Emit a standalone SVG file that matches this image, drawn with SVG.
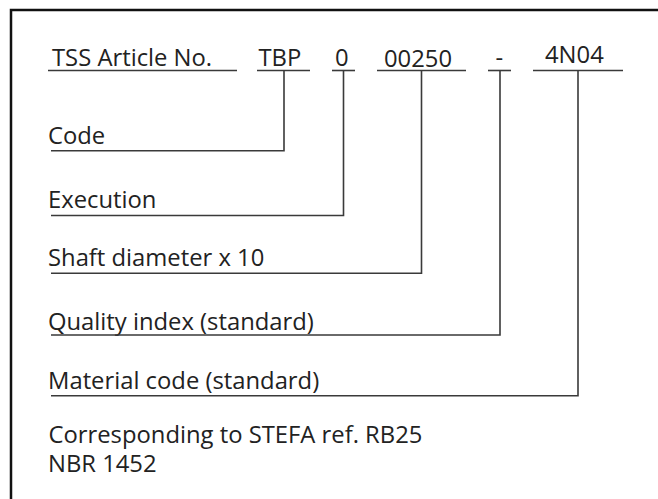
<svg xmlns="http://www.w3.org/2000/svg" width="658" height="499" viewBox="0 0 658 499">
<style>
  .t { font-family: "Open Sans", "Noto Sans", "DejaVu Sans", sans-serif; font-size: 23.8px; fill: #222; }
  .ln { fill: none; stroke: #3a3a3a; stroke-width: 1.6; }
  .frame { fill: none; stroke: #111; stroke-width: 2.5; }
</style>
<rect width="658" height="499" fill="#fff"/>
<path class="frame" d="M11 499 V10 H658"/>
<g id="header">
  <text class="t" x="52" y="66">TSS Article No.</text>
  <line class="ln" x1="48" y1="70.5" x2="237" y2="70.5"/>
  <text class="t" x="258.5" y="66">TBP</text>
  <line class="ln" x1="257" y1="70.5" x2="310" y2="70.5"/>
  <text class="t" x="335" y="66">0</text>
  <line class="ln" x1="332" y1="70.5" x2="355" y2="70.5"/>
  <text class="t" x="384" y="66.5">00250</text>
  <line class="ln" x1="377" y1="70.5" x2="466" y2="70.5"/>
  <text class="t" x="495.5" y="66">-</text>
  <line class="ln" x1="488" y1="70.5" x2="511" y2="70.5"/>
  <text class="t" x="545" y="62.5">4N04</text>
  <line class="ln" x1="533" y1="70.5" x2="623" y2="70.5"/>
</g>
<g id="code"><text class="t" x="48" y="144.3">Code</text></g>
<g id="execution"><text class="t" x="48" y="208.3">Execution</text></g>
<g id="shaft"><text class="t" x="48" y="265.5">Shaft diameter x 10</text></g>
<g id="quality"><text class="t" x="48" y="329.5">Quality index (standard)</text></g>
<g id="material"><text class="t" x="48" y="389.3">Material code (standard)</text></g>
<g id="note">
  <text class="t"><tspan x="48.5" y="443.3">Corresponding to STEFA ref. RB25</tspan><tspan x="48" y="471.7">NBR 1452</tspan></text>
</g>
<g id="connectors">
  <path class="ln" d="M284 70.5 V150.7 H51"/>
  <path class="ln" d="M343.5 70.5 V215.5 H51"/>
  <path class="ln" d="M421.5 70.5 V273.3 H51"/>
  <path class="ln" d="M500 70.5 V335 H51"/>
  <path class="ln" d="M578 70.5 V395.8 H51"/>
</g>
</svg>
